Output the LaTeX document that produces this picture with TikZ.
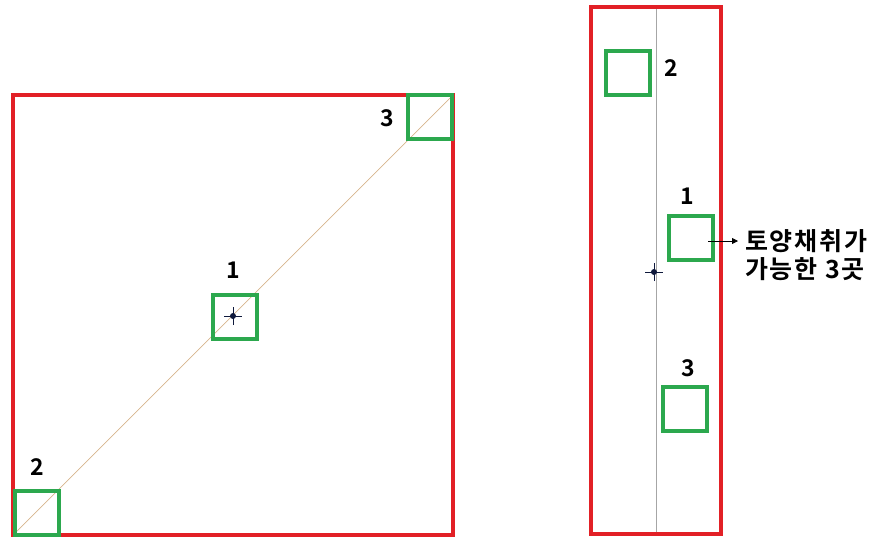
\documentclass[tikz,border=0pt]{standalone}
\usepackage{fontspec}
\newfontfamily\kr{Noto Sans CJK KR}[BoldFont={Noto Sans CJK KR Bold}]
\newfontfamily\krsp{Noto Sans CJK KR Bold}[LetterSpace=7]
\usetikzlibrary{arrows.meta}
\definecolor{myred}{RGB}{226,32,38}
\definecolor{mygreen}{RGB}{44,168,78}
\definecolor{mytan}{RGB}{214,180,140}
\definecolor{mynavy}{RGB}{15,25,60}
\tikzset{
  plotrect/.style={draw=myred,line width=4.5pt},
  samplebox/.style={draw=mygreen,line width=4pt,minimum size=44pt,inner sep=0pt},
  numlabel/.style={font=\kr\bfseries\fontsize{23pt}{25pt}\selectfont,inner sep=0pt},
  guide/.style={line width=0.7pt},
}
\begin{document}
\begin{tikzpicture}[x=1pt,y=-1pt]
\useasboundingbox (0,0) rectangle (869,538);
% left plot
\draw[guide,draw=mytan] (13,535) coordinate (dl) -- (453,95) coordinate (dr);
\draw[plotrect] (13,95) rectangle (453,535);
\node[samplebox] (L1) at (235,317) {};
\node[samplebox] (L2) at (37,513) {};
\node[samplebox] (L3) at (430,117) {};
\node[numlabel] (l1) at (233,270) {1};
\node[numlabel] (l2) at (37,467) {2};
\node[numlabel] (l3) at (387,118) {3};
\coordinate (cL) at (233,316);
\draw[mynavy,line width=0.5pt] ([xshift=-9pt]cL) -- ([xshift=9pt]cL) ([yshift=-9pt]cL) -- ([yshift=9pt]cL);
\fill[mynavy] (cL) circle (3pt);
% right plot
\draw[guide,draw=gray!70] (656,9) coordinate (vt) -- (656,533) coordinate (vb);
\draw[plotrect] (591,7) rectangle (721,534);
\node[samplebox] (R2) at (628,73) {};
\node[samplebox] (R1) at (691,238) {};
\node[samplebox] (R3) at (685,409) {};
\node[numlabel] (r2) at (671,68) {2};
\node[numlabel] (r1) at (687,196) {1};
\node[numlabel] (r3) at (688,368) {3};
\coordinate (cR) at (654,272);
\draw[mynavy,line width=0.5pt] ([xshift=-9pt]cR) -- ([xshift=9pt]cR) ([yshift=-9pt]cR) -- ([yshift=9pt]cR);
\fill[mynavy] (cR) circle (3pt);
\node[font=\krsp\fontsize{25pt}{28pt}\selectfont,align=left,anchor=west,inner sep=0pt] (txt) at (745,255) {토양채취가\\가능한 3곳};
\coordinate (as) at (708,241);
\draw[-{Triangle[length=6pt,width=6pt]},line width=0.8pt,black,shorten >=7pt] (as) -- (as -| txt.west);
\end{tikzpicture}
\end{document}
